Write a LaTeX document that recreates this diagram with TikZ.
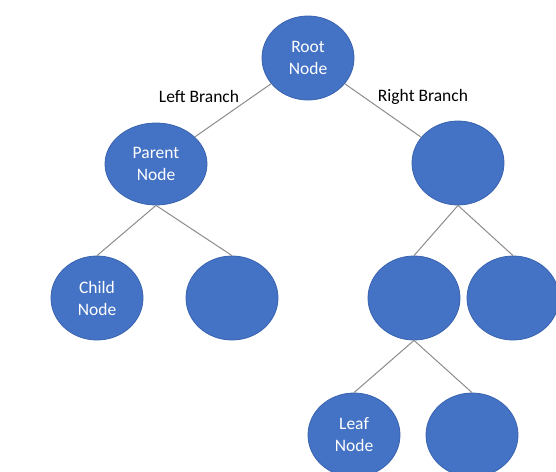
\documentclass[tikz,border=0pt]{standalone}
\usepackage{fontspec}
\setmainfont{Carlito}
\usetikzlibrary{shapes.geometric}
\definecolor{nodeblue}{HTML}{4472C4}
\definecolor{nodeedge}{HTML}{3A64B0}
\definecolor{edgegray}{HTML}{8C8C8C}
\tikzset{
  treenode/.style={ellipse, fill=nodeblue, draw=nodeedge, line width=0.8pt,
    minimum width=92pt, minimum height=84pt, inner sep=0pt,
    text=white, align=center, font=\fontsize{17.5}{22}\selectfont},
  branch/.style={draw=edgegray, line width=1pt},
  branchlabel/.style={text=black, font=\fontsize{17.5}{21}\selectfont, inner sep=0pt}
}
\begin{document}
\begin{tikzpicture}[x=1pt, y=-1pt]
  \clip (0,0) rectangle (556,471);
  \fill[white] (0,0) rectangle (556,471);

  % nodes
  \node[treenode] (root)   at (308,58)  {Root\\Node};
  \node[treenode, minimum width=102pt, minimum height=82pt] (parent) at (156,164) {Parent\\Node};
  \node[treenode] (right)  at (458,163) {};
  \node[treenode] (child)  at (97,298)  {Child\\Node};
  \node[treenode] (lr)     at (232,298) {};
  \node[treenode] (rl)     at (414,298) {};
  \node[treenode] (rr)     at (513,298) {};
  \node[treenode] (leaf)   at (354,435) {Leaf\\Node};
  \node[treenode] (leaf2)  at (472,435) {};

  % connectors
  \draw[branch] (root) -- (parent);
  \draw[branch] (root) -- (right);
  \draw[branch] (parent.south) -- (child.north);
  \draw[branch] (parent.south) -- (lr.north);
  \draw[branch] (right.south) -- (rl.north);
  \draw[branch] (right.south) -- (rr.north);
  \draw[branch] (rl.south) -- (leaf.north);
  \draw[branch] (rl.south) -- (leaf2.north);

  % branch labels
  \node[branchlabel] (lbl) at (199,96) {Left Branch};
  \node[branchlabel] (rbl) at (423,97) {Right Branch};
\end{tikzpicture}
\end{document}
